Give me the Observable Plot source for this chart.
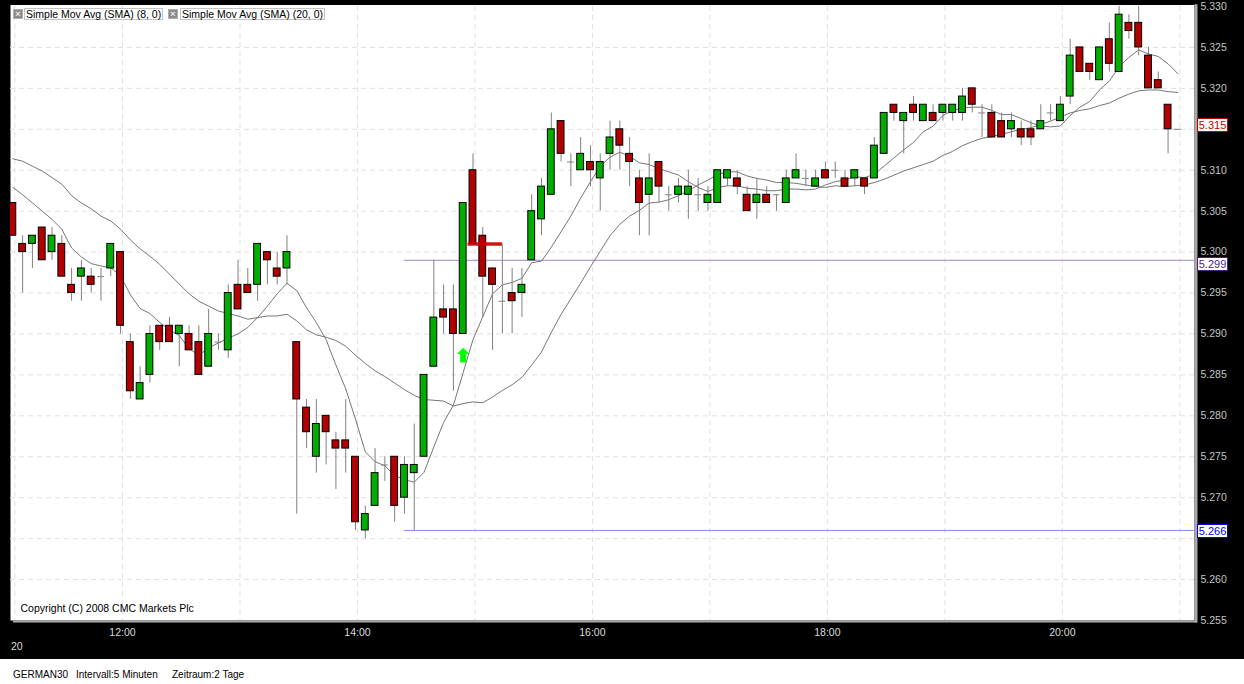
<!DOCTYPE html>
<html><head><meta charset="utf-8">
<script src="https://cdn.jsdelivr.net/npm/d3@7"></script>
<script src="https://cdn.jsdelivr.net/npm/@observablehq/plot@0.6"></script>
<style>
html,body{margin:0;padding:0;background:#fff;}
#wrap{position:relative;width:1244px;height:659px;background:#000;overflow:hidden;}
#wrap svg{display:block;}
.ico{position:absolute;top:9px;width:10px;height:10px;background:#8a8a8a;border:1px solid #b0b0b0;box-sizing:border-box;color:#eee;font:bold 9px "Liberation Sans",Arial,sans-serif;line-height:8px;text-align:center;}
.lbl{position:absolute;top:8px;height:12px;border:1px solid #c4c4c4;box-sizing:border-box;background:#fff;font:10.5px "Liberation Sans",Arial,sans-serif;line-height:10px;color:#000;padding-left:1px;white-space:nowrap;}
.plab{position:absolute;left:1197px;width:31px;height:14px;box-sizing:border-box;background:#fff;border:1px solid;font:11px "Liberation Sans",Arial,sans-serif;line-height:12px;text-align:center;}
#footer{position:relative;height:25px;font:10px "Liberation Sans",Arial,sans-serif;color:#000;}
#footer span{position:absolute;top:10px;white-space:nowrap;}
</style></head><body>
<div id="wrap"></div>
<div id="footer"><span style="left:13px">GERMAN30</span><span style="left:76px">Intervall:5 Minuten</span><span style="left:172px">Zeitraum:2 Tage</span></div>
<script>
// ---- data (GERMAN30, 5-minute bars) ----
const firstBarMinute = 11 * 60;   // 11:00
const barMinutes = 5;
const opens = [5306,5301,5301,5303,5300,5301,5296,5297,5297,5297,
5298,5300,5289,5282,5285,5291,5291,5290,5290,5289,
5286,5289,5288,5296,5296,5296,5300,5298,5298,5289,
5281,5275,5280,5277,5277,5275,5266,5269,5274,5275,
5270,5273,5275,5286,5293,5293,5290,5310,5302,5298,
5294,5295,5295,5299,5304,5307,5316,5311,5310,5311,
5309,5312,5315,5312,5309,5307,5311,5307,5307,5307,
5307,5306,5306,5309,5309,5307,5306,5307,5307,5306,
5309,5309,5308,5310,5310,5309,5309,5309,5309,5312,
5318,5316,5318,5316,5317,5317,5317,5317,5320,5317,
5317,5316,5315,5315,5315,5315,5317,5316,5319,5325,
5323,5321,5326,5322,5328,5328,5324,5321,5318,5315];
const highs = [5306,5302,5302,5303,5303,5302,5298,5299,5298,5298,
5301,5300,5290,5286,5291,5291,5292,5291,5291,5291,
5293,5290,5296,5299,5298,5301,5300,5300,5302,5289,
5282,5282,5280,5278,5282,5275,5269,5276,5275,5275,
5275,5279,5285,5299,5296,5296,5306,5312,5303,5298,
5301,5298,5298,5307,5309,5317,5316,5312,5314,5313,
5312,5316,5316,5314,5310,5312,5311,5308,5309,5310,
5309,5308,5310,5310,5310,5308,5309,5308,5307,5310,
5312,5310,5310,5311,5311,5310,5310,5309,5314,5317,
5318,5317,5319,5318,5318,5318,5318,5320,5320,5318,
5318,5317,5317,5316,5316,5318,5318,5319,5326,5325,
5323,5325,5328,5330,5329,5330,5325,5322,5318,5315];
const lows = [5302,5295,5298,5299,5299,5297,5294,5294,5295,5294,
5297,5290,5282,5282,5284,5288,5289,5286,5288,5285,
5286,5288,5287,5293,5295,5294,5296,5296,5296,5268,
5276,5273,5274,5271,5273,5266,5265,5269,5272,5267,
5268,5266,5275,5286,5290,5283,5290,5301,5292,5288,
5290,5290,5292,5299,5302,5307,5311,5308,5310,5308,
5305,5310,5310,5308,5302,5302,5306,5305,5306,5304,
5305,5305,5306,5308,5307,5305,5304,5306,5305,5306,
5309,5308,5308,5309,5309,5308,5308,5307,5309,5312,
5316,5312,5316,5316,5316,5316,5316,5316,5317,5314,
5314,5314,5314,5313,5313,5315,5316,5316,5318,5322,
5321,5321,5322,5322,5326,5324,5320,5320,5312,5315];
const closes = [5302,5300,5302,5299,5302,5297,5295,5298,5296,5297,
5301,5291,5283,5284,5290,5289,5289,5291,5288,5285,
5290,5289,5295,5293,5295,5301,5299,5297,5300,5282,
5278,5279,5278,5276,5276,5267,5268,5273,5274,5269,
5274,5274,5285,5292,5292,5290,5306,5301,5297,5296,
5294,5294,5296,5305,5308,5315,5312,5311,5312,5310,
5311,5314,5313,5311,5306,5309,5308,5307,5308,5308,
5307,5307,5310,5310,5308,5305,5307,5306,5307,5309,
5310,5309,5309,5309,5310,5308,5310,5308,5313,5317,
5317,5317,5317,5318,5316,5318,5318,5319,5318,5317,
5314,5314,5316,5314,5314,5316,5317,5318,5324,5322,
5322,5325,5323,5329,5327,5325,5320,5320,5315,5315];
// Simple moving averages as drawn on the chart
const sma8 = [5307.9,5307.0,5306.0,5305.0,5304.0,5302.8,5300.5,5299.4,5298.6,5298.3,
5298.1,5297.1,5294.8,5293.1,5292.5,5291.4,5290.5,5289.8,5288.2,5287.4,
5288.3,5288.9,5289.5,5290.0,5290.8,5292.0,5293.4,5294.9,5296.2,5295.3,
5293.2,5291.4,5289.3,5286.2,5283.3,5279.6,5275.6,5274.4,5273.9,5272.7,
5272.2,5271.9,5273.1,5276.2,5279.2,5281.3,5285.3,5289.3,5292.1,5294.9,
5296.0,5296.3,5296.8,5298.7,5298.9,5300.6,5302.5,5304.4,5306.6,5308.6,
5310.5,5311.6,5312.2,5311.7,5310.9,5310.7,5310.2,5309.8,5309.4,5308.6,
5307.9,5307.4,5307.9,5308.1,5308.1,5307.8,5307.7,5307.5,5307.5,5307.7,
5307.7,5307.6,5307.7,5308.2,5308.6,5308.8,5309.2,5309.1,5309.5,5310.5,
5311.5,5312.5,5313.4,5314.7,5315.4,5316.7,5317.3,5317.6,5317.7,5317.7,
5317.3,5316.8,5316.8,5316.3,5315.8,5315.4,5315.3,5315.4,5316.7,5317.7,
5318.4,5319.8,5320.9,5322.6,5323.8,5324.7,5324.2,5323.9,5323.0,5321.8];
const sma20 = [5311.4,5311.1,5310.5,5309.9,5309.1,5308.3,5306.9,5306.0,5305.3,5304.4,
5303.8,5302.8,5301.5,5300.4,5299.5,5298.5,5297.3,5296.1,5294.9,5294.0,
5293.4,5292.8,5292.5,5292.2,5291.8,5292.0,5292.2,5292.2,5292.4,5291.6,
5290.5,5289.9,5289.6,5289.2,5288.5,5287.4,5286.4,5285.5,5284.8,5284.0,
5283.2,5282.5,5282.0,5281.9,5281.8,5281.2,5281.5,5281.7,5281.6,5282.3,
5283.1,5283.8,5284.7,5286.2,5287.8,5290.2,5292.4,5294.3,5296.2,5298.2,
5300.1,5302.0,5303.4,5304.4,5305.1,5306.0,5306.1,5306.4,5306.9,5307.5,
5308.2,5308.8,5309.5,5309.8,5309.8,5309.3,5309.0,5308.8,5308.5,5308.5,
5308.4,5308.2,5308.0,5307.9,5308.1,5308.0,5308.1,5308.2,5308.5,5308.9,
5309.4,5309.9,5310.3,5310.7,5311.1,5311.8,5312.3,5313.0,5313.5,5313.9,
5314.1,5314.4,5314.7,5315.0,5315.2,5315.6,5316.0,5316.5,5317.0,5317.3,
5317.5,5317.9,5318.2,5318.8,5319.3,5319.7,5319.8,5319.8,5319.6,5319.5];
const priceTicks = [5255,5260,5265,5270,5275,5280,5285,5290,5295,5300,5305,5310,5315,5320,5325,5330];
const gridPrices = [5260,5265,5270,5275,5280,5285,5290,5295,5300,5305,5310,5315,5320,5325];
const labelHours = [12,14,16,18,20];
const gridHours = [12,13,14,15,16,17,18,19,20,21];
const dayLabel = "20";
const lastPrice = 5315;
const resistance = 5299;
const support = 5266;
const stopLevel = 5301;
const signalBar = 46, signalPrice = 5287.4;
const levelStartBar = 40, stopStartBar = 46, stopEndBar = 50;
const legendItems = ["Simple Mov Avg (SMA) (8, 0)", "Simple Mov Avg (SMA) (20, 0)"];
const copyright = "Copyright (C) 2008 CMC Markets Plc";

// ---- chart ----
const barTime = i => firstBarMinute + barMinutes * i + 4;
const bars = opens.map((o, i) => ({t: barTime(i), o, h: highs[i], l: lows[i], c: closes[i], s8: sma8[i], s20: sma20[i]}));
const xMin = 662.8, xMax = 1267.5;
const half = 1.75;
const upColor = "#00ad00", downColor = "#b30000";
const gridStyle = {stroke: "#e0e0e0", strokeDasharray: "5,4"};
const fmtPrice = d => (d / 1000).toFixed(3);
const fmtTime = m => String(Math.floor(m / 60)).padStart(2, "0") + ":" + String(m % 60).padStart(2, "0");
const arrow = {draw(ctx) {
  ctx.moveTo(0, -7.4); ctx.lineTo(6.2, -1.2); ctx.lineTo(3, -1.2); ctx.lineTo(3, 7.2);
  ctx.lineTo(-3, 7.2); ctx.lineTo(-3, -1.2); ctx.lineTo(-6.2, -1.2); ctx.closePath();
}};

// boxed price labels on the right axis (value, colour, vertical offset of the box in px)
const boxes = [{v: lastPrice, color: "#c00000", off: -4}, {v: resistance, color: "#4a1f80", off: 4}, {v: support, color: "#0000f0", off: 1}];
const pxPerPoint = 614 / 75;
const visibleTicks = priceTicks.filter(v => !boxes.some(b => Math.abs((b.v - v) * pxPerPoint - b.off) < 11));

const chart = Plot.plot({
  width: 1244, height: 659,
  marginLeft: 10, marginRight: 50, marginTop: 6, marginBottom: 39,
  x: {domain: [xMin, xMax], axis: null},
  y: {domain: [5255, 5330], axis: null},
  color: {type: "identity"},
  style: {background: "#000", color: "#ddd", fontFamily: "'Liberation Sans', Arial, sans-serif", fontSize: "10.5px", overflow: "visible"},
  marks: [
    Plot.frame({fill: "#fff", stroke: "none", insetTop: -1.5}),
    Plot.ruleY(gridPrices, gridStyle),
    Plot.ruleX([...gridHours.map(h => h * 60), barTime(0) + 1], gridStyle),
    Plot.ruleY([resistance], {x1: barTime(levelStartBar), x2: xMax, stroke: "#a088c8"}),
    Plot.ruleY([support], {x1: barTime(levelStartBar), x2: xMax, stroke: "#8a8ae6"}),
    Plot.line(bars, {x: "t", y: "s20", stroke: "#767676", strokeWidth: 1, clip: true}),
    Plot.line(bars, {x: "t", y: "s8", stroke: "#767676", strokeWidth: 1, clip: true}),
    Plot.ruleX(bars, {x: "t", y1: "l", y2: "h", stroke: "#808080", clip: true}),
    Plot.rect(bars.filter(d => d.o !== d.c), {x1: d => d.t - half, x2: d => d.t + half, y1: "o", y2: "c",
      fill: d => d.c > d.o ? upColor : downColor, stroke: "#000", strokeWidth: 1, clip: true}),
    Plot.ruleY(bars.filter(d => d.o === d.c), {y: "o", x1: d => d.t - half, x2: d => d.t + half, stroke: "#808080", clip: true}),
    Plot.ruleY([stopLevel], {x1: barTime(stopStartBar) + 2.5, x2: barTime(stopEndBar), stroke: "#cc0000", strokeWidth: 3.5, strokeOpacity: 0.92}),
    Plot.dot([{t: barTime(signalBar), p: signalPrice}], {x: "t", y: "p", symbol: arrow, r: 7, fill: "#00ff00", stroke: "none"}),
    Plot.ruleX([xMax], {y1: 5330.2, y2: 5254.7, stroke: "#a9a9a9", strokeWidth: 3, dx: 1.5}),
    Plot.ruleY([5255], {x1: xMin + 1.5, x2: xMax + 1.5, stroke: "#a9a9a9", strokeWidth: 2, dy: 1}),
    Plot.axisY(visibleTicks, {anchor: "right", tickSize: 0, tickPadding: 6, tickFormat: fmtPrice, color: "#c4c4c4", label: null}),
    Plot.axisX(labelHours.map(h => h * 60), {anchor: "bottom", tickSize: 0, tickPadding: 8, tickFormat: fmtTime, color: "#dcdcdc", label: null}),
    Plot.text([dayLabel], {x: barTime(0) + 1, frameAnchor: "bottom", dy: 29, dx: 2, fill: "#dcdcdc"}),
    Plot.text([copyright], {frameAnchor: "bottom-left", dx: 10, dy: -8.5, textAnchor: "start", fill: "#000"})
  ]
});

const wrap = document.getElementById("wrap");
wrap.appendChild(chart);

// legend (top-left)
const legendLayout = [{icon: 13, label: 24, width: 139}, {icon: 168, label: 180, width: 145}];
legendItems.forEach((txt, i) => {
  const ic = document.createElement("div");
  ic.className = "ico"; ic.style.left = legendLayout[i].icon + "px"; ic.textContent = "×";
  const lb = document.createElement("div");
  lb.className = "lbl"; lb.style.left = legendLayout[i].label + "px"; lb.style.width = legendLayout[i].width + "px"; lb.textContent = txt;
  wrap.appendChild(ic); wrap.appendChild(lb);
});

// price labels on the right, placed with the chart's y scale
const yScale = chart.scale("y");
boxes.forEach(({v, color, off}) => {
  const el = document.createElement("div");
  el.className = "plab";
  el.style.top = (yScale.apply(v) + off - 7) + "px";
  el.style.borderColor = color; el.style.color = color;
  el.textContent = fmtPrice(v);
  wrap.appendChild(el);
});
</script>
</body></html>
